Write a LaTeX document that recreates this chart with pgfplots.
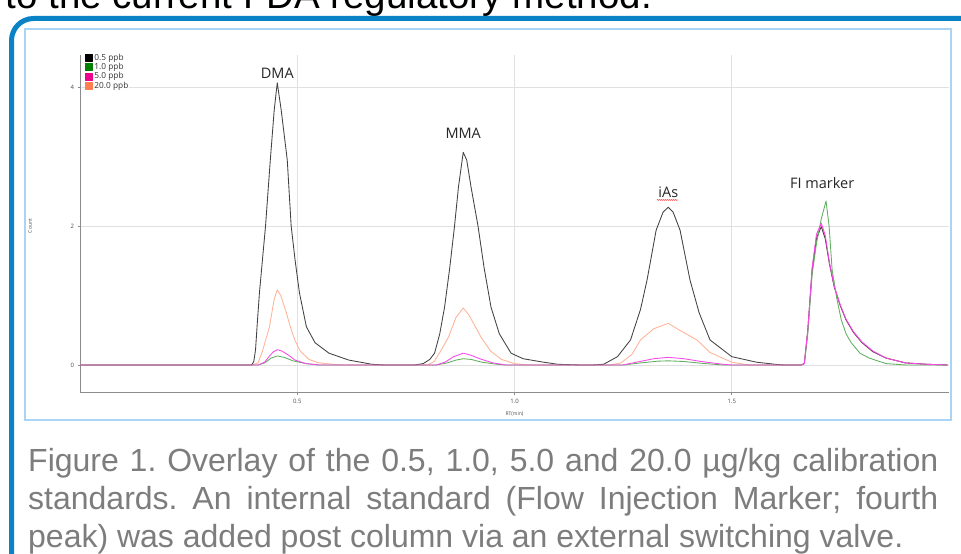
\documentclass[border=0pt]{standalone}
\usepackage{fontspec}
\setmainfont{Open Sans}
\newfontfamily\capfont{Liberation Sans}
\usepackage{pgfplots}
\pgfplotsset{compat=1.18}
\usetikzlibrary{decorations.pathmorphing}

\definecolor{frameblue}{RGB}{10,130,198}
\definecolor{lightframe}{RGB}{170,212,245}
\definecolor{capgray}{RGB}{125,125,125}
\definecolor{lnblack}{RGB}{65,65,65}
\definecolor{lngreen}{RGB}{95,175,95}
\definecolor{lnmag}{RGB}{250,70,235}
\definecolor{lnorange}{RGB}{255,178,150}
\definecolor{sqgreen}{RGB}{0,128,0}
\definecolor{sqorange}{RGB}{255,127,80}

\pgfplotsset{sq/.style={legend image code/.code={\fill[#1] (0pt,-3.4pt) rectangle (6.8pt,3.4pt);}}}
\frenchspacing

\begin{document}
\begin{tikzpicture}
\useasboundingbox (0pt,0pt) rectangle (961pt,554pt);
\begin{scope}
  \clip (0pt,0pt) rectangle (961pt,554pt);
  \fill[white] (0pt,0pt) rectangle (961pt,554pt);
  \node[anchor=base east, inner sep=0, font=\capfont\fontsize{38.5}{42}\selectfont] at (652pt,545pt) {to the current FDA regulatory method.};
  \draw[frameblue, line width=5pt, rounded corners=22pt] (11.5pt,-40pt) -- (11.5pt,535.5pt) -- (1010pt,535.5pt);
\end{scope}
\draw[lightframe, line width=1.2pt] (25pt,134pt) rectangle (951pt,525pt);

\begin{axis}[
  at={(80pt,161pt)}, anchor=south west,
  scale only axis, width=869pt, height=338pt,
  xmin=0, xmax=2, ymin=-0.403, ymax=4.46,
  axis x line*=bottom, axis y line*=left,
  axis line style={-, draw=black!45, line width=1pt},
  xtick={0.5,1,1.5}, ytick={0,2,4},
  grid=major, grid style={draw=black!12, line width=0.6pt},
  tick align=outside, major tick length=2.5pt,
  tick style={black!45, line width=0.6pt},
  ticklabel style={font=\fontsize{6}{7}\selectfont, text=black!70},
  x tick label style={/pgf/number format/.cd, fixed, fixed zerofill, precision=1},
  /pgf/number format/assume math mode=true,
  xlabel={RT(min)}, ylabel={Count},
  label style={font=\fontsize{5}{6}\selectfont, text=black!70},
  xlabel style={at={(axis description cs:0.5,-0.062)}, anchor=center},
  ylabel style={at={(axis description cs:-0.0575,0.494)}, anchor=center},
  legend style={at={(axis description cs:0.005,1.006)}, anchor=north west,
    draw=none, fill=white, font=\fontsize{8.3}{8.5}\selectfont, text=black!80,
    inner sep=0.5pt, row sep=0.9pt, column sep=1.2pt,
    nodes={inner sep=0.6pt, text height=5.9pt, text depth=1.4pt}},
  legend cell align=left,
  every axis plot/.append style={line width=0.85pt, line join=round},
]
% 20.0 ppb
\addplot[lnorange, forget plot] coordinates {
 (0,0) (0.395,0) (0.41,0.03) (0.42,0.2) (0.436,0.55) (0.447,0.95) (0.454,1.08) (0.462,1.0) (0.475,0.75) (0.484,0.55) (0.495,0.35) (0.507,0.2) (0.527,0.08) (0.55,0.03) (0.6,0)
 (0.8,0) (0.815,0.05) (0.83,0.2) (0.848,0.4) (0.865,0.68) (0.882,0.82) (0.895,0.72) (0.91,0.55) (0.923,0.4) (0.945,0.2) (0.97,0.08) (1.0,0.02) (1.03,0)
 (1.22,0) (1.245,0.03) (1.27,0.15) (1.29,0.36) (1.32,0.52) (1.354,0.6) (1.38,0.5) (1.42,0.36) (1.45,0.18) (1.5,0.04) (1.54,0)
 (1.66,0) (1.667,0.02) (1.675,0.5) (1.685,1.37) (1.695,1.85) (1.706,2.02) (1.715,1.85) (1.725,1.45) (1.736,1.12) (1.75,0.85) (1.763,0.65) (1.78,0.47) (1.8,0.32) (1.825,0.19) (1.855,0.1) (1.9,0.03) (1.95,0.01) (1.997,0)
};
% 0.5 ppb
\addplot[lnblack, forget plot] coordinates {
 (0,0) (0.395,0) (0.4,0.05) (0.404,0.22) (0.408,0.6) (0.413,1.04) (0.427,2.0) (0.438,2.95) (0.447,3.67) (0.454,4.06) (0.463,3.67) (0.477,2.95) (0.486,2.0) (0.495,1.51) (0.505,1.04) (0.521,0.55) (0.541,0.32) (0.573,0.17) (0.619,0.07) (0.672,0.01) (0.7,0)
 (0.77,0) (0.79,0.02) (0.805,0.08) (0.816,0.17) (0.828,0.45) (0.839,0.83) (0.851,1.4) (0.862,2.0) (0.871,2.56) (0.882,3.06) (0.89,2.95) (0.9,2.56) (0.916,2.0) (0.93,1.4) (0.946,0.83) (0.965,0.45) (0.992,0.17) (1.02,0.09) (1.067,0.04) (1.1,0.01) (1.15,0)
 (1.18,0) (1.205,0.01) (1.237,0.12) (1.267,0.36) (1.29,0.8) (1.305,1.22) (1.326,1.94) (1.342,2.2) (1.354,2.27) (1.365,2.2) (1.381,1.94) (1.404,1.22) (1.425,0.75) (1.45,0.36) (1.5,0.12) (1.557,0.04) (1.6,0.01) (1.62,0)
 (1.66,0) (1.667,0.02) (1.675,0.5) (1.685,1.37) (1.695,1.82) (1.706,1.99) (1.715,1.82) (1.725,1.45) (1.736,1.12) (1.75,0.85) (1.763,0.65) (1.78,0.47) (1.8,0.32) (1.825,0.19) (1.855,0.1) (1.9,0.03) (1.95,0.01) (1.997,0)
};
% 1.0 ppb
\addplot[lngreen, forget plot] coordinates {
 (0,0) (0.41,0) (0.425,0.03) (0.44,0.1) (0.454,0.13) (0.47,0.11) (0.49,0.06) (0.52,0.02) (0.55,0)
 (0.82,0) (0.845,0.03) (0.865,0.07) (0.882,0.09) (0.9,0.08) (0.925,0.04) (0.96,0.01) (0.98,0)
 (1.25,0) (1.29,0.03) (1.33,0.055) (1.354,0.06) (1.39,0.05) (1.43,0.025) (1.48,0)
 (1.66,0) (1.667,0.02) (1.675,0.45) (1.685,1.3) (1.695,1.75) (1.706,2.1) (1.717,2.36) (1.724,2.0) (1.731,1.37) (1.742,0.95) (1.752,0.65) (1.763,0.45) (1.775,0.32) (1.795,0.17) (1.816,0.1) (1.855,0.02) (1.9,0) (1.997,0)
};
% 5.0 ppb
\addplot[lnmag, forget plot] coordinates {
 (0,0) (0.41,0) (0.425,0.04) (0.435,0.12) (0.445,0.19) (0.454,0.22) (0.465,0.2) (0.48,0.14) (0.495,0.07) (0.52,0.02) (0.55,0)
 (0.82,0) (0.84,0.04) (0.86,0.12) (0.882,0.17) (0.9,0.14) (0.92,0.09) (0.95,0.03) (0.98,0)
 (1.25,0) (1.28,0.04) (1.32,0.09) (1.354,0.11) (1.39,0.09) (1.43,0.05) (1.48,0.01) (1.5,0)
 (1.66,0) (1.667,0.02) (1.675,0.5) (1.685,1.4) (1.695,1.88) (1.706,2.04) (1.715,1.87) (1.725,1.47) (1.736,1.13) (1.75,0.86) (1.763,0.66) (1.78,0.48) (1.8,0.33) (1.825,0.2) (1.855,0.1) (1.9,0.03) (1.95,0.01) (1.997,0)
};
\addlegendimage{sq=black}\addlegendentry{0.5 ppb}
\addlegendimage{sq=sqgreen}\addlegendentry{1.0 ppb}
\addlegendimage{sq=magenta}\addlegendentry{5.0 ppb}
\addlegendimage{sq=sqorange}\addlegendentry{20.0 ppb}

\node[font=\fontsize{14.5}{16}\selectfont, text=black!85] at (axis cs:0.454,4.2) {DMA};
\node[font=\fontsize{14.5}{16}\selectfont, text=black!85] at (axis cs:0.882,3.34) {MMA};
\node[font=\fontsize{14.5}{16}\selectfont, text=black!85] at (axis cs:1.354,2.49) {iAs};
\draw[red!80, line width=0.5pt, decorate, decoration={snake, amplitude=0.5pt, segment length=2pt}] (axis cs:1.328,2.374) -- (axis cs:1.376,2.374);
\node[font=\fontsize{14.5}{16}\selectfont, text=black!85] at (axis cs:1.708,2.62) {FI marker};
\node[font=\fontsize{5}{6}\selectfont, text=black!70, anchor=east] at (axis description cs:-0.012,0.994) {x10\textsuperscript{4}};
\end{axis}

\begin{scope}[font=\capfont\fontsize{32}{38}\selectfont, text=capgray]
  \node[anchor=base west, inner sep=0] at (28pt,82pt) {\makebox[910pt][s]{Figure 1. Overlay of the 0.5, 1.0, 5.0 and 20.0 µg/kg calibration}};
  \node[anchor=base west, inner sep=0] at (28pt,44pt) {\makebox[910pt][s]{standards. An internal standard (Flow Injection Marker; fourth}};
  \node[anchor=base west, inner sep=0] at (28pt,6pt) {peak) was added post column via an external switching valve.};
\end{scope}
\end{tikzpicture}
\end{document}
